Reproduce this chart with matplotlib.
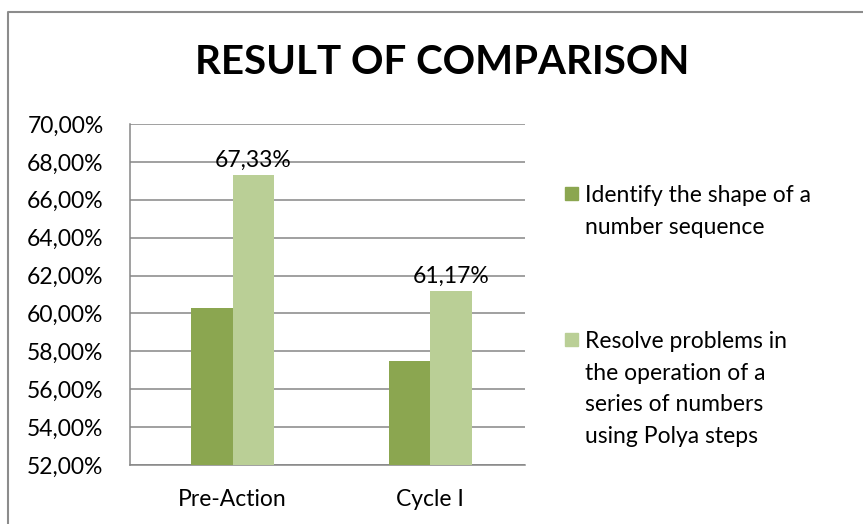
import numpy as np
import matplotlib
matplotlib.use("Agg")
import matplotlib.pyplot as plt
from matplotlib.lines import Line2D
from matplotlib.patches import Rectangle

categories = ["Pre-Action", "Cycle I"]
series_names = [
    "Identify the shape of a\nnumber sequence",
    "Resolve problems in\nthe operation of a\nseries of numbers\nusing Polya steps",
]
identify_shape = [60.30, 57.51]
resolve_problems = [67.33, 61.17]
y_ticks = [52, 54, 56, 58, 60, 62, 64, 66, 68, 70]

colors = ["#8BA650", "#BACF96"]
grid_color = "#868686"
W, H = 863, 524

plt.rcParams["font.family"] = ["Lato", "DejaVu Sans"]


def pct(v):
    return f"{v:.2f}%".replace(".", ",")


fig = plt.figure(figsize=(W / 100, H / 100), dpi=100)
ax = fig.add_axes([130 / W, 59 / H, 395 / W, 341 / H])

x = np.arange(len(categories))
width = 0.21
bars1 = ax.bar(x - width / 2, identify_shape, width, color=colors[0], zorder=3)
bars2 = ax.bar(x + width / 2, resolve_problems, width, color=colors[1], zorder=3)

# only the second series carries data labels
for rect, v in zip(bars2, resolve_problems):
    ax.annotate(pct(v), (rect.get_x() + rect.get_width() / 2, v),
                xytext=(0, 3), textcoords="offset points",
                ha="center", va="bottom", fontsize=16.5, color="black", zorder=4)

ax.set_ylim(52, 70)
ax.set_xlim(-0.52, 1.48)
ax.set_yticks(y_ticks)
ax.set_yticklabels([pct(t) for t in y_ticks])
ax.set_xticks(x)
ax.set_xticklabels(categories)
ax.tick_params(axis="y", length=0, pad=19, labelsize=16.5)
ax.tick_params(axis="x", length=0, pad=17, labelsize=16.5)
ax.yaxis.grid(True, color=grid_color, linewidth=1.1, zorder=0)

for side in ["top", "right"]:
    ax.spines[side].set_visible(False)
for side in ["left", "bottom"]:
    ax.spines[side].set_color(grid_color)
    ax.spines[side].set_linewidth(1.1)

# legend drawn by hand to mimic the Excel layout
legend_tops = [185, 331]
for name, col, top in zip(series_names, colors, legend_tops):
    fig.add_artist(Rectangle((565 / W, 1 - (top + 15) / H), 13 / W, 13 / H,
                             transform=fig.transFigure, color=col))
    fig.text(585 / W, 1 - top / H, name, ha="left", va="top",
             fontsize=16.5, linespacing=1.62)

fig.text(442 / W, 1 - 62 / H, "RESULT OF COMPARISON", ha="center", va="center",
         fontsize=29, fontweight="bold")

# chart border (cropped at right and bottom)
fig.add_artist(Line2D([8 / W, 8 / W, 1.01], [-0.01, 1 - 12 / H, 1 - 12 / H],
                      transform=fig.transFigure, color="#8C8C8C", linewidth=1.5))

fig.savefig("out.png", dpi=100)
